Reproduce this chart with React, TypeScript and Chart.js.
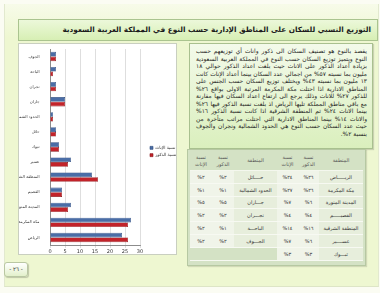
import React, { useEffect, useRef } from "react";
import { Chart, registerables } from "chart.js";

Chart.register(...registerables);

const titleText = "التوزيع النسبي للسكان على المناطق الإدارية حسب النوع في المملكة العربية السعودية";

const regions = [
  "الرياض",
  "مكة المكرمة",
  "المدينة المنورة",
  "القصيم",
  "المنطقة الشرقية",
  "عسير",
  "تبوك",
  "حائل",
  "الحدود الشمالية",
  "جازان",
  "نجران",
  "الباحة",
  "الجوف",
];

const tableRegionLabels = [
  "الريـــــاض",
  "مكة المكرمة",
  "المدينة المنورة",
  "القصيـــــم",
  "المنطقة الشرقية",
  "عســــير",
  "تبـــوك",
  "حــــائل",
  "الحدود الشمالية",
  "جـــازان",
  "نجـــران",
  "الباحـــة",
  "الجـــوف",
];

const maleShare = [26, 26, 6, 4, 16, 6, 3, 2, 1, 5, 2, 1, 2];
const femaleShare = [24, 27, 7, 4, 14, 7, 3, 2, 1, 5, 2, 2, 2];

const femaleLabel = "نسبة الإناث";
const maleLabel = "نسبة الذكور";

const xMin = 0;
const xMax = 30;
const xStep = 5;

const pageNumber = "- ٢٦ -";

const paragraph =
  "يقصد بالنوع  هو تصنيف السكان الى ذكور واناث أي توزيعهم حسب النوع ويتميز توزيع السكان حسب النوع في المملكة العربية السعودية بزيادة أعداد الذكور على الاناث حيث بلغت اعداد الذكور حوالي ١٨ مليون بما نسبته ٥٧% من اجمالي عدد السكان بينما أعداد الإناث كانت ١٣ مليون بما نسبته ٤٣% ويختلف توزيع السكان حسب الجنس على  المناطق الادارية اذا احتلت مكة المكرمة المرتبة الاولى بواقع ٢٦% للذكور ٢٧% للاناث وذلك يرجع الى ارتفاع اعداد السكان فيها مقارنة مع باقي مناطق المملكة تليها الرياض اذ بلغت نسبة الذكور فيها ٢٦% بينما الاناث ٢٤% ثم المنطقة الشرقية اذا كانت نسبة الذكور ١٦% والاناث ١٤% بينما المناطق الادارية التي احتلت مراتب متأخرة  من حيث عدد السكان حسب النوع هي الحدود الشمالية ونجران والجوف بنسبة ٢%.";

const toArabicDigits = (n: number) =>
  String(n).replace(/\d/g, (d) => "٠١٢٣٤٥٦٧٨٩"[Number(d)]) + "%";

const FONT = "'DejaVu Sans', sans-serif";

const legendFix = {
  id: "legendFix",
  beforeLayout(chart: any) {
    const lg = chart.legend;
    if (lg && !lg.__wrapped) {
      const orig = lg.fit.bind(lg);
      lg.fit = function () {
        orig();
        this.width = 36;
      };
      lg.__wrapped = true;
    }
  },
  afterLayout(chart: any) {
    const lg = chart.legend;
    if (lg) lg.left += 7;
  },
};

function BarChart() {
  const ref = useRef<HTMLCanvasElement | null>(null);
  useEffect(() => {
    if (!ref.current) return;
    const chart = new Chart(ref.current, {
      type: "bar",
      data: {
        labels: regions,
        datasets: [
          {
            label: femaleLabel,
            data: femaleShare,
            backgroundColor: "#4a6da6",
            borderColor: "#2c4a7c",
            borderWidth: 0.6,
          },
          {
            label: maleLabel,
            data: maleShare,
            backgroundColor: "#c2232a",
            borderColor: "#861015",
            borderWidth: 0.6,
          },
        ],
      },
      options: {
        indexAxis: "y",
        responsive: false,
        animation: false,
        devicePixelRatio: 1,
        layout: { padding: { top: 5, left: 0, right: 0, bottom: 0 } },
        datasets: {
          bar: { categoryPercentage: 0.62, barPercentage: 1 },
        },
        scales: {
          x: {
            min: xMin,
            max: xMax,
            ticks: {
              stepSize: xStep,
              font: { family: FONT, size: 5 },
              color: "#333",
              padding: 1,
            },
            grid: { color: "#d6d6d6", lineWidth: 0.8, tickLength: 3 },
            border: { color: "#8c8c8c" },
            afterFit: (s: any) => {
              s.height = 9;
            },
          },
          y: {
            reverse: true,
            ticks: {
              font: { family: FONT, size: 4 },
              color: "#333",
              padding: 2.5,
              autoSkip: false,
            },
            grid: { display: false },
            border: { color: "#8c8c8c" },
            afterFit: (s: any) => {
              s.width = 31;
            },
          },
        },
        plugins: {
          legend: {
            position: "right",
            labels: {
              boxWidth: 3,
              boxHeight: 3,
              padding: 3,
              font: { family: FONT, size: 4.3 },
              color: "#333",
            },
          },
          tooltip: { enabled: false },
        },
      },
      plugins: [legendFix as any],
    });
    return () => chart.destroy();
  }, []);
  return <canvas ref={ref} width={157} height={210} style={{ display: "block" }} />;
}

export default function App() {
  const rightRows = [0, 1, 2, 3, 4, 5, 6];
  const leftRows = [7, 8, 9, 10, 11, 12, -1];

  const headCell: React.CSSProperties = {
    background: "#d4e2c5",
    color: "#555",
    fontSize: "5px",
    lineHeight: "6.5px",
    textAlign: "center",
    height: "19px",
    padding: 0,
    borderBottom: "1px solid #f4f7ee",
  };
  const regionCell: React.CSSProperties = {
    background: "#e7eedc",
    color: "#333",
    fontSize: "5px",
    textAlign: "center",
    height: "11.8px",
    padding: 0,
    borderBottom: "1px solid #f7f9f2",
    whiteSpace: "nowrap",
  };
  const numCell: React.CSSProperties = {
    ...regionCell,
    background: "#f0f4e9",
  };
  const emptyCell: React.CSSProperties = {
    ...regionCell,
    background: "#d4e2c5",
  };

  return (
    <div
      style={{
        position: "fixed",
        left: 0,
        top: 0,
        width: 380,
        height: 293,
        overflow: "hidden",
        background: "#fbfcf3",
        fontFamily: FONT,
      }}
    >
      <div
        style={{
          position: "absolute",
          left: 4,
          top: 4,
          width: 373,
          height: 282,
          background: "linear-gradient(#f7fbe9, #eef7d1 12%, #eef7d1)",
          borderLeft: "1px solid #e2e9cf",
          borderRight: "1px solid #e2e9cf",
          borderBottom: "1px solid #dde5c6",
        }}
      />
      <div
        style={{
          position: "absolute",
          left: 18,
          top: 19,
          width: 352,
          height: 20,
          background: "linear-gradient(#ecf8da, #d7efb4)",
          border: "1px solid #aac48f",
          direction: "rtl",
          textAlign: "right",
          fontWeight: "bold",
          fontSize: "7.3px",
          lineHeight: "20px",
          paddingRight: 6,
          boxSizing: "content-box",
          color: "#1b1b1b",
          whiteSpace: "nowrap",
        }}
      >
        {titleText}
      </div>
      <div
        style={{
          position: "absolute",
          left: 18,
          top: 43,
          width: 157,
          height: 210,
          background: "#ffffff",
          border: "1px solid #c9cfc0",
        }}
      >
        <BarChart />
      </div>
      <div
        style={{
          position: "absolute",
          left: 189,
          top: 43,
          width: 171,
          height: 98,
          padding: "3px 5px 3px 6px",
          background: "linear-gradient(#f3faea, #daefbd)",
          border: "1px solid #a9c08f",
          boxShadow: "1px 1px 1px rgba(0,0,0,0.15)",
          direction: "rtl",
          textAlign: "justify",
          fontSize: "5.95px",
          lineHeight: "7.55px",
          color: "#1e1e1e",
        }}
      >
        {paragraph}
      </div>
      <div
        style={{
          position: "absolute",
          left: 187,
          top: 149,
          width: 173,
          height: 111,
          padding: "1px 2px 3px 2px",
          background: "#d4e2c5",
          border: "1px solid #b6c8a2",
          boxShadow: "1px 1px 1px rgba(0,0,0,0.12)",
        }}
      >
        <table
          style={{
            direction: "rtl",
            width: "100%",
            borderCollapse: "collapse",
            tableLayout: "fixed",
            fontFamily: FONT,
          }}
        >
          <colgroup>
            <col style={{ width: 44 }} />
            <col style={{ width: 21 }} />
            <col style={{ width: 21 }} />
            <col style={{ width: 43 }} />
            <col style={{ width: 22 }} />
            <col style={{ width: 22 }} />
          </colgroup>
          <thead>
            <tr>
              <th style={{ ...headCell, fontWeight: "normal" }}>المنطقة</th>
              <th style={{ ...headCell, fontWeight: "normal" }}>
                نسبة
                <br />
                الذكور
              </th>
              <th style={{ ...headCell, fontWeight: "normal" }}>
                نسبة
                <br />
                الإناث
              </th>
              <th style={{ ...headCell, fontWeight: "normal" }}>المنطقة</th>
              <th style={{ ...headCell, fontWeight: "normal" }}>
                نسبة
                <br />
                الذكور
              </th>
              <th style={{ ...headCell, fontWeight: "normal" }}>
                نسبة
                <br />
                الإناث
              </th>
            </tr>
          </thead>
          <tbody>
            {rightRows.map((ri, k) => {
              const li = leftRows[k];
              return (
                <tr key={k}>
                  <td style={regionCell}>{tableRegionLabels[ri]}</td>
                  <td style={numCell}>{toArabicDigits(maleShare[ri])}</td>
                  <td style={numCell}>{toArabicDigits(femaleShare[ri])}</td>
                  {li >= 0 ? (
                    <>
                      <td style={regionCell}>{tableRegionLabels[li]}</td>
                      <td style={numCell}>{toArabicDigits(maleShare[li])}</td>
                      <td style={numCell}>{toArabicDigits(femaleShare[li])}</td>
                    </>
                  ) : (
                    <>
                      <td style={emptyCell}></td>
                      <td style={emptyCell}></td>
                      <td style={emptyCell}></td>
                    </>
                  )}
                </tr>
              );
            })}
          </tbody>
        </table>
      </div>
      <div
        style={{
          position: "absolute",
          left: 4,
          top: 262,
          width: 22,
          height: 13,
          borderRadius: 3,
          border: "1px solid #b9c7a2",
          background: "linear-gradient(#ffffff, #e3f0cb)",
          boxShadow: "1px 1px 1px rgba(0,0,0,0.2)",
          fontSize: "5.5px",
          lineHeight: "13px",
          textAlign: "center",
          color: "#333",
          direction: "rtl",
        }}
      >
        {pageNumber}
      </div>
    </div>
  );
}
